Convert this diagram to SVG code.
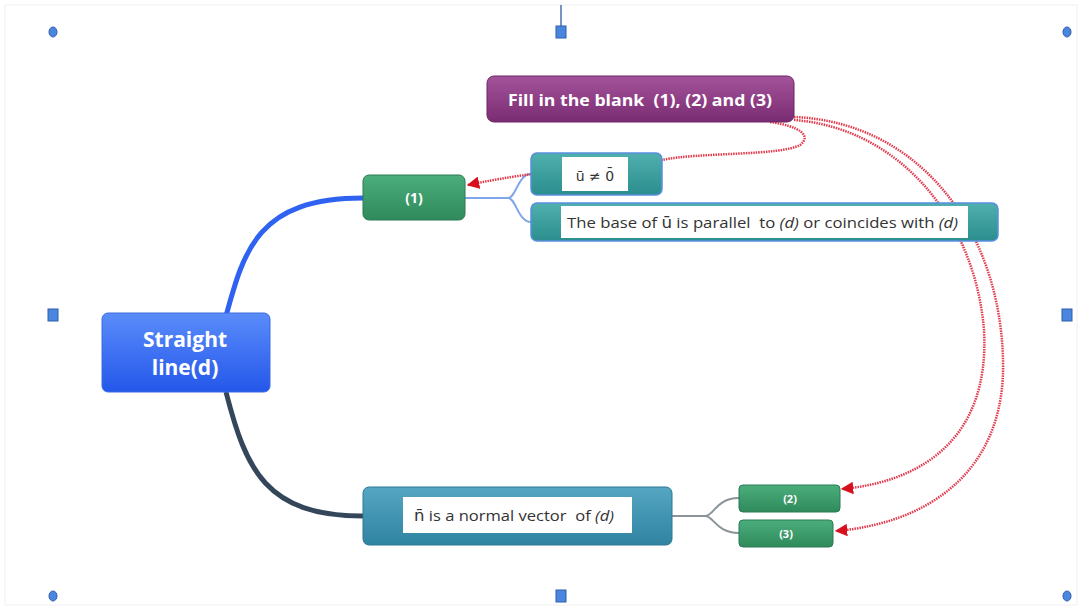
<svg xmlns="http://www.w3.org/2000/svg" width="1082" height="607" viewBox="0 0 1082 607">
<defs>
<linearGradient id="gBlue" x1="0" y1="0" x2="0" y2="1"><stop offset="0" stop-color="#5a8cfa"/><stop offset="1" stop-color="#2457ea"/></linearGradient>
<linearGradient id="gGreen" x1="0" y1="0" x2="0" y2="1"><stop offset="0" stop-color="#4cae7c"/><stop offset="1" stop-color="#2f8a5c"/></linearGradient>
<linearGradient id="gTeal" x1="0" y1="0" x2="0" y2="1"><stop offset="0" stop-color="#4fb0ae"/><stop offset="1" stop-color="#2c8d8e"/></linearGradient>
<linearGradient id="gSea" x1="0" y1="0" x2="0" y2="1"><stop offset="0" stop-color="#55a6c2"/><stop offset="1" stop-color="#2f84a2"/></linearGradient>
<linearGradient id="gPurple" x1="0" y1="0" x2="0" y2="1"><stop offset="0" stop-color="#a3539a"/><stop offset="1" stop-color="#7a2c72"/></linearGradient>
<marker id="arr" viewBox="0 0 10 10" refX="9" refY="5" markerWidth="5" markerHeight="5" orient="auto" markerUnits="strokeWidth"><path d="M0,0 L10,5 L0,10 z" fill="#d8101e"/></marker>
</defs>
<style>
.lbl{font-family:"Open Sans","Liberation Sans",sans-serif;white-space:pre;}
.w{fill:#ffffff;font-weight:bold;}
.d{fill:#333333;}
.m{font-family:"DejaVu Sans",sans-serif;}
.dot{fill:none;stroke:#e23a4c;stroke-width:2.5;stroke-dasharray:1.5 1;}
.h{fill:#4a86e0;stroke:#2f5fa8;stroke-width:1;}
</style>
<rect x="5" y="5" width="1072" height="600" fill="#ffffff" stroke="#f0f0f0"/>

<g id="connectors">
<path d="M226 316 C244 250 258 198 363 198" fill="none" stroke="#2f62f0" stroke-width="5"/>
<path d="M226 392 C246 470 266 516 363 516" fill="none" stroke="#34475a" stroke-width="5"/>
<path d="M465 198 L508 198 M508 198 C516 198 518 174 531 174 M508 198 C516 198 518 222 531 222" fill="none" stroke="#7fa6e8" stroke-width="2"/>
<path d="M672 516 L705 516 M705 516 C714 516 716 498 739 498 M705 516 C714 516 716 533 739 533" fill="none" stroke="#8a9498" stroke-width="2"/>
<path class="dot" d="M770 122 C800 126 812 136 800 145 C780 156 700 152 662 160 L600 168 C570 170 530 172 468 185" marker-end="url(#arr)"/>
<path class="dot" d="M794 120 C900 128 975 220 984 330 C990 440 920 482 842 489" marker-end="url(#arr)"/>
<path class="dot" d="M794 117 C920 122 1000 230 1003 360 C1006 470 930 523 836 531" marker-end="url(#arr)"/>
</g>

<g id="handles">
<line x1="561" y1="5" x2="561" y2="27" stroke="#4a72b0" stroke-width="1.5"/>
<ellipse class="h" cx="53" cy="32" rx="4" ry="5"/>
<ellipse class="h" cx="1067" cy="32" rx="4" ry="5"/>
<ellipse class="h" cx="53" cy="596" rx="4" ry="5"/>
<ellipse class="h" cx="1067" cy="596" rx="4" ry="5"/>
<rect class="h" x="556" y="26" width="10" height="12"/>
<rect class="h" x="556" y="590" width="10" height="12"/>
<rect class="h" x="48" y="309" width="10" height="12"/>
<rect class="h" x="1062" y="309" width="10" height="12"/>
</g>

<g id="root">
<rect x="102" y="313" width="168" height="79" rx="6" fill="url(#gBlue)" stroke="#3d6be0"/>
<text class="lbl w" x="185" y="347" font-size="21" text-anchor="middle">Straight</text>
<text class="lbl w" x="185" y="375" font-size="21" text-anchor="middle">line(d)</text>
</g>

<g id="n1">
<rect x="363" y="175" width="102" height="45" rx="6" fill="url(#gGreen)" stroke="#2b7a52"/>
<text class="lbl w" x="414" y="203" font-size="14" text-anchor="middle">(1)</text>
</g>

<g id="nu">
<rect x="531" y="153" width="131" height="42" rx="6" fill="url(#gTeal)" stroke="#5a8ee0" stroke-width="1.5"/>
<rect x="562" y="157" width="66" height="34" fill="#ffffff"/>
<text class="m d" x="595" y="181" font-size="14" text-anchor="middle">ū ≠ 0̄</text>
</g>

<g id="nbase">
<rect x="531" y="203" width="467" height="38" rx="6" fill="url(#gTeal)" stroke="#5a8ee0" stroke-width="1.5"/>
<rect x="561" y="206" width="407" height="32" fill="#ffffff"/>
<text class="lbl d" x="567" y="228" font-size="15" textLength="391" lengthAdjust="spacingAndGlyphs">The base of <tspan class="m">ū</tspan> is parallel  to <tspan font-style="italic">(d)</tspan> or coincides with <tspan font-style="italic">(d)</tspan></text>
</g>

<g id="fill">
<rect x="487" y="76" width="307" height="46" rx="7" fill="url(#gPurple)" stroke="#6a2563"/>
<text class="lbl w" x="508" y="106" font-size="16" textLength="264" lengthAdjust="spacingAndGlyphs">Fill in the blank  (1), (2) and (3)</text>
</g>

<g id="nnormal">
<rect x="363" y="487" width="309" height="58" rx="6" fill="url(#gSea)" stroke="#2c7893"/>
<rect x="403" y="497" width="229" height="36" fill="#ffffff"/>
<text class="lbl d" x="414" y="521" font-size="15" textLength="200" lengthAdjust="spacingAndGlyphs"><tspan class="m">n̄</tspan> is a normal vector  of <tspan font-style="italic">(d)</tspan></text>
</g>

<g id="n2">
<rect x="739" y="485" width="101" height="27" rx="4" fill="url(#gGreen)" stroke="#2b7a52"/>
<text class="lbl w" x="790" y="503" font-size="11" text-anchor="middle">(2)</text>
</g>

<g id="n3">
<rect x="739" y="520" width="94" height="27" rx="4" fill="url(#gGreen)" stroke="#2b7a52"/>
<text class="lbl w" x="786" y="538" font-size="11" text-anchor="middle">(3)</text>
</g>
</svg>
